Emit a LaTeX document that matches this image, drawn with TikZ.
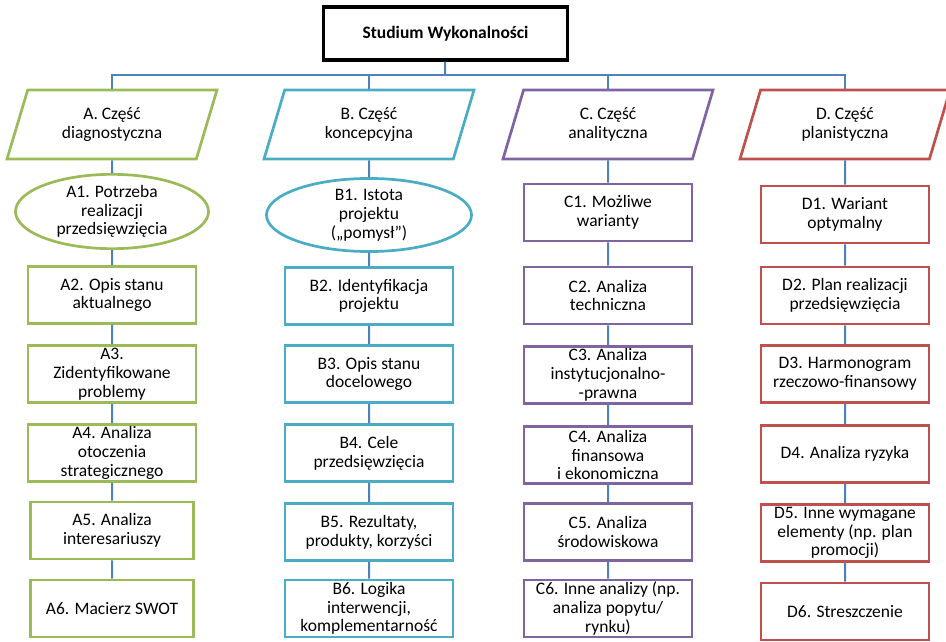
\documentclass[tikz,border=0pt]{standalone}
\usepackage{fontspec}
\setmainfont{Carlito}
\usepackage{xcolor}
\usepackage{tikz}
\usetikzlibrary{positioning, shapes.geometric}

\definecolor{olive}{RGB}{155,187,89}
\definecolor{aqua}{RGB}{75,172,198}
\definecolor{violet}{RGB}{128,100,162}
\definecolor{brick}{RGB}{192,80,77}
\definecolor{link}{RGB}{79,129,189}

\begin{document}
\begin{tikzpicture}[x=1pt, y=-1pt,
  every node/.style={font=\fontsize{17.5}{18.8}\selectfont, align=center, inner sep=0pt},
  part/.style={trapezium, draw, line width=2.7pt, trapezium left angle=58.5, trapezium right angle=121.5,
    trapezium stretches body, minimum height=69pt, minimum width=210pt},
  item/.style={rectangle, draw, line width=2.7pt, minimum width=168pt, minimum height=57pt},
  idea/.style={ellipse, draw, line width=2.7pt},
  conn/.style={draw=link, line width=2pt}]
\useasboundingbox (0,0) rectangle (946,642);
\node[draw, line width=3.3pt, minimum width=244pt, minimum height=53pt, font=\fontsize{17.5}{18.5}\selectfont\bfseries](study) at (445.5,33.5){Studium Wykonalności};
\coordinate(bus) at (445,75);
\node[part, draw=olive](A) at (112,124.5){A. Część\\diagnostyczna};
\node[part, draw=aqua](B) at (369,124.5){B. Część\\koncepcyjna};
\node[part, draw=violet](C) at (608,124.5){C. Część\\analityczna};
\node[part, draw=brick](D) at (845,124.5){D. Część\\planistyczna};
\node[idea, draw=olive, minimum width=193pt, minimum height=58pt](A1) at (112,211.5){A1. Potrzeba\\realizacji\\przedsięwzięcia};
\node[item, draw=olive](A2) at (112,295){A2. Opis stanu\\aktualnego};
\node[item, draw=olive](A3) at (112,374){A3.\\Zidentyfikowane\\problemy};
\node[item, draw=olive](A4) at (112,453){A4. Analiza\\otoczenia\\strategicznego};
\node[item, draw=olive, minimum width=163pt](A5) at (112,530.5){A5. Analiza\\interesariuszy};
\node[item, draw=olive, minimum width=163pt](A6) at (112,608.5){A6. Macierz SWOT};
\node[idea, draw=aqua, minimum width=205pt, minimum height=62pt](B1) at (369,215){B1. Istota\\projektu\\(„pomysł”)};
\node[item, draw=aqua](B2) at (369,296){B2. Identyfikacja\\projektu};
\node[item, draw=aqua](B3) at (369,374){B3. Opis stanu\\docelowego};
\node[item, draw=aqua](B4) at (369,453){B4. Cele\\przedsięwzięcia};
\node[item, draw=aqua](B5) at (369,532){B5. Rezultaty,\\produkty, korzyści};
\node[item, draw=aqua](B6) at (369,608.5){B6. Logika\\interwencji,\\komplementarność};
\node[item, draw=violet](C1) at (608,212.5){C1. Możliwe\\warianty};
\node[item, draw=violet](C2) at (608,295.5){C2. Analiza\\techniczna};
\node[item, draw=violet](C3) at (608,375){C3. Analiza\\instytucjonalno-\\-prawna};
\node[item, draw=violet](C4) at (608,455){C4. Analiza\\finansowa\\i ekonomiczna};
\node[item, draw=violet](C5) at (608,532){C5. Analiza\\środowiskowa};
\node[item, draw=violet](C6) at (608,608.5){C6. Inne analizy (np.\\analiza popytu/\\rynku)};
\node[item, draw=brick](D1) at (845,214.5){D1. Wariant\\optymalny};
\node[item, draw=brick](D2) at (845,295.5){D2. Plan realizacji\\przedsięwzięcia};
\node[item, draw=brick](D3) at (845,374){D3. Harmonogram\\rzeczowo-finansowy};
\node[item, draw=brick](D4) at (845,454){D4. Analiza ryzyka};
\node[item, draw=brick](D5) at (845,533){D5. Inne wymagane\\elementy (np. plan\\promocji)};
\node[item, draw=brick](D6) at (845,611.5){D6. Streszczenie};
\draw[conn] (study) -- (bus);
\draw[conn] (bus) -| (A.north);
\draw[conn] (bus) -| (B.north);
\draw[conn] (bus) -| (C.north);
\draw[conn] (bus) -| (D.north);
\draw[conn] (A) -- (A1) (A1) -- (A2) (A2) -- (A3) (A3) -- (A4) (A4) -- (A5) (A5) -- (A6);
\draw[conn] (B) -- (B1) (B1) -- (B2) (B2) -- (B3) (B3) -- (B4) (B4) -- (B5) (B5) -- (B6);
\draw[conn] (C) -- (C1) (C1) -- (C2) (C2) -- (C3) (C3) -- (C4) (C4) -- (C5) (C5) -- (C6);
\draw[conn] (D) -- (D1) (D1) -- (D2) (D2) -- (D3) (D3) -- (D4) (D4) -- (D5) (D5) -- (D6);
\end{tikzpicture}
\end{document}
